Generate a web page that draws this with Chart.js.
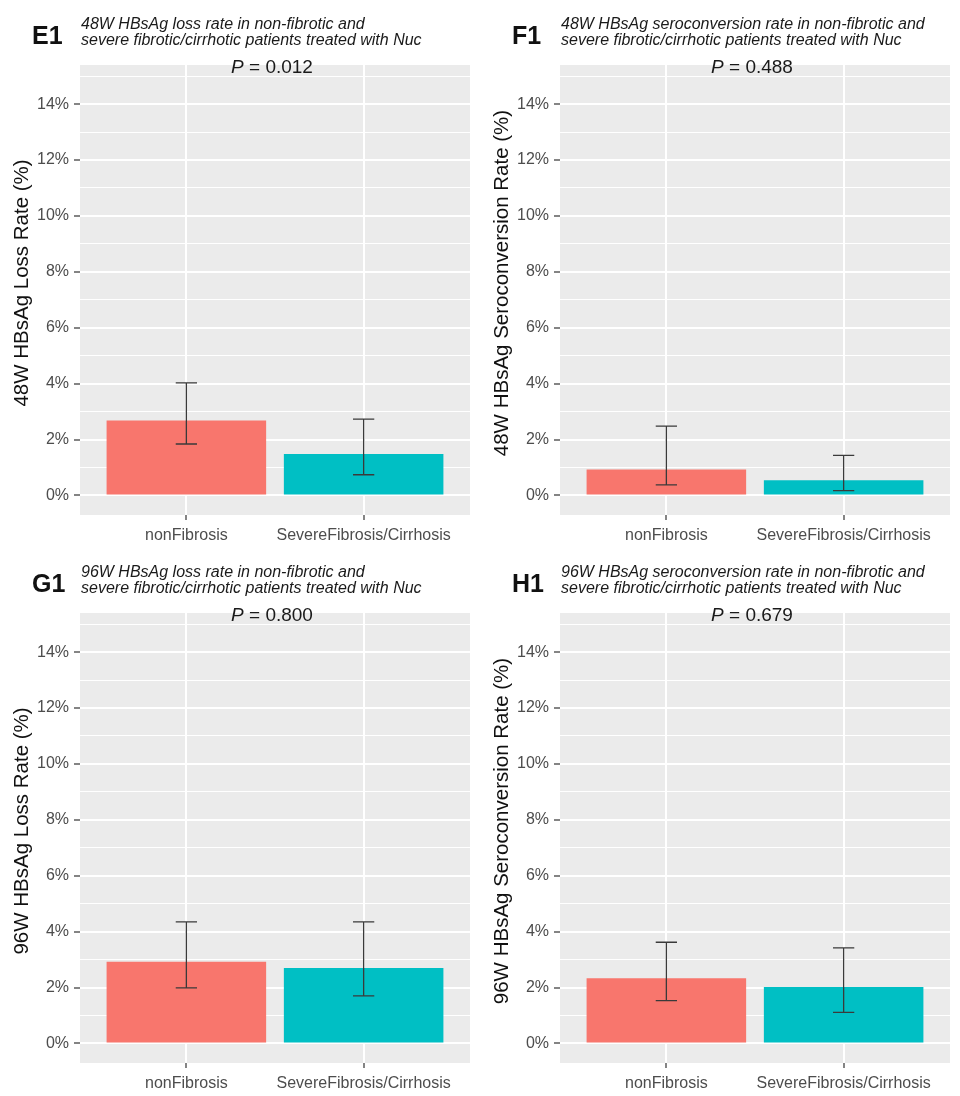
<!DOCTYPE html>
<html>
<head>
<meta charset="utf-8">
<script src="https://cdn.jsdelivr.net/npm/chart.js@4.4.1/dist/chart.umd.min.js"></script>
<style>
  html, body { margin: 0; padding: 0; background: #fff; }
  #grid { width: 960px; height: 1096px; display: grid; grid-template-columns: 480px 480px; grid-template-rows: 548px 548px; }
  #grid canvas { display: block; }
</style>
</head>
<body>
<div id="grid">
  <div><canvas id="e1" width="480" height="548"></canvas></div>
  <div><canvas id="f1" width="480" height="548"></canvas></div>
  <div><canvas id="g1" width="480" height="548"></canvas></div>
  <div><canvas id="h1" width="480" height="548"></canvas></div>
</div>
<script>
  var categories = ['nonFibrosis', 'SevereFibrosis/Cirrhosis']
  var barColors = ['#F8766D', '#00BFC4']

  // rate (%) with lower / upper CI
  var e1Rate = [2.68, 1.48], e1Low = [1.84, 0.74], e1High = [4.03, 2.73]
  var f1Rate = [0.93, 0.54], f1Low = [0.38, 0.17], f1High = [2.48, 1.43]
  var g1Rate = [2.92, 2.70], g1Low = [1.99, 1.70], g1High = [4.35, 4.35]
  var h1Rate = [2.33, 2.02], h1Low = [1.53, 1.11], h1High = [3.62, 3.42]

  var yTickValues = [0, 2, 4, 6, 8, 10, 12, 14]
  var yTickLabels = ['0%', '2%', '4%', '6%', '8%', '10%', '12%', '14%']

  var FONT = '"Liberation Sans", Arial, Helvetica, sans-serif'

  var panels = [
    { id: 'e1', tag: 'E1', rate: e1Rate, low: e1Low, high: e1High, p: '0.012',
      title: ['48W HBsAg loss rate in non-fibrotic and', 'severe fibrotic/cirrhotic patients treated with Nuc'],
      ytitle: '48W HBsAg Loss Rate (%)' },
    { id: 'f1', tag: 'F1', rate: f1Rate, low: f1Low, high: f1High, p: '0.488',
      title: ['48W HBsAg seroconversion rate in non-fibrotic and', 'severe fibrotic/cirrhotic patients treated with Nuc'],
      ytitle: '48W HBsAg Seroconversion Rate (%)' },
    { id: 'g1', tag: 'G1', rate: g1Rate, low: g1Low, high: g1High, p: '0.800',
      title: ['96W HBsAg loss rate in non-fibrotic and', 'severe fibrotic/cirrhotic patients treated with Nuc'],
      ytitle: '96W HBsAg Loss Rate (%)' },
    { id: 'h1', tag: 'H1', rate: h1Rate, low: h1Low, high: h1High, p: '0.679',
      title: ['96W HBsAg seroconversion rate in non-fibrotic and', 'severe fibrotic/cirrhotic patients treated with Nuc'],
      ytitle: '96W HBsAg Seroconversion Rate (%)' }
  ]

  // grey ggplot panel behind the grid
  var panelBg = {
    id: 'panelBg',
    beforeDraw: function(chart){
      var a = chart.chartArea, ctx = chart.ctx
      ctx.save()
      ctx.fillStyle = '#ebebeb'
      ctx.fillRect(a.left, a.top, a.right - a.left, a.bottom - a.top)
      ctx.restore()
    }
  }

  // error bars + all the text around the panel
  var decorations = {
    id: 'decorations',
    afterDatasetsDraw: function(chart, args, opts){
      var ctx = chart.ctx, xs = chart.scales.x, ys = chart.scales.y
      var half = (xs.getPixelForValue(0.06) - xs.getPixelForValue(0))
      ctx.save()
      ctx.strokeStyle = '#3a3a3a'
      ctx.lineWidth = 1.3
      opts.low.forEach(function(lo, i){
        var x = xs.getPixelForValue(i)
        var y1 = ys.getPixelForValue(lo), y2 = ys.getPixelForValue(opts.high[i])
        ctx.beginPath()
        ctx.moveTo(x, y1); ctx.lineTo(x, y2)
        ctx.moveTo(x - half, y1); ctx.lineTo(x + half, y1)
        ctx.moveTo(x - half, y2); ctx.lineTo(x + half, y2)
        ctx.stroke()
      })
      ctx.restore()
    },
    afterDraw: function(chart, args, opts){
      var ctx = chart.ctx, a = chart.chartArea
      ctx.save()
      ctx.fillStyle = '#111'
      ctx.textBaseline = 'alphabetic'

      ctx.font = 'bold 25px ' + FONT
      ctx.textAlign = 'left'
      ctx.fillText(opts.tag, 32, 44)

      ctx.fillStyle = '#1a1a1a'
      ctx.font = 'italic 16px ' + FONT
      ctx.fillText(opts.title[0], 81, 29)
      ctx.fillText(opts.title[1], 81, 45)

      // P = value, italic P
      ctx.font = 'italic 19px ' + FONT
      var wP = ctx.measureText('P').width
      ctx.font = '19px ' + FONT
      var rest = ' = ' + opts.p
      var wR = ctx.measureText(rest).width
      var x0 = 272 - (wP + wR) / 2
      ctx.font = 'italic 19px ' + FONT
      ctx.fillText('P', x0, 73)
      ctx.font = '19px ' + FONT
      ctx.fillText(rest, x0 + wP, 73)

      // y axis title
      ctx.translate(28, 283)
      ctx.rotate(-Math.PI / 2)
      ctx.textAlign = 'center'
      ctx.font = '20.5px ' + FONT
      ctx.fillStyle = '#111'
      ctx.fillText(opts.ytitle, 0, 0)
      ctx.restore()
    }
  }

  panels.forEach(function(pn){
    var points = pn.rate.map(function(v, i){ return { x: i, y: v } })
    new Chart(document.getElementById(pn.id), {
      type: 'bar',
      data: {
        datasets: [{
          data: points,
          backgroundColor: barColors,
          borderWidth: 0,
          barPercentage: 0.9,
          categoryPercentage: 1.0
        }]
      },
      options: {
        responsive: false,
        animation: false,
        events: [],
        layout: { padding: { top: 65, right: 10, left: 0, bottom: 0 } },
        plugins: {
          legend: { display: false },
          tooltip: { enabled: false },
          decorations: { tag: pn.tag, title: pn.title, ytitle: pn.ytitle, p: pn.p, low: pn.low, high: pn.high }
        },
        scales: {
          x: {
            type: 'linear',
            min: -0.6,
            max: 1.6,
            offset: false,
            afterFit: function(s){ s.height = 33 },
            grid: { offset: false, color: '#ffffff', lineWidth: 2, tickColor: '#333333', tickWidth: 1.2, tickLength: 5 },
            border: { display: false },
            ticks: {
              stepSize: 1,
              includeBounds: false,
              autoSkip: false,
              maxRotation: 0,
              padding: 6,
              color: '#4d4d4d',
              font: { family: FONT, size: 16 },
              callback: function(v){ return categories[v] !== undefined ? categories[v] : '' }
            }
          },
          y: {
            min: -0.7,
            max: 15.4,
            afterFit: function(s){ s.width = 80 },
            grid: {
              color: '#ffffff',
              lineWidth: function(c){ return c.tick && c.tick.value % 2 === 0 ? 2 : 1 },
              tickColor: function(c){ return c.tick && c.tick.value % 2 === 0 ? '#333333' : 'rgba(0,0,0,0)' },
              tickWidth: 1.2,
              tickLength: 6
            },
            border: { display: false },
            ticks: {
              stepSize: 1,
              includeBounds: false,
              autoSkip: false,
              padding: 5,
              color: '#4d4d4d',
              font: { family: FONT, size: 16 },
              callback: function(v){
                var k = yTickValues.indexOf(v)
                return k >= 0 ? yTickLabels[k] : ''
              }
            }
          }
        }
      },
      plugins: [panelBg, decorations]
    })
  })
</script>
</body>
</html>
